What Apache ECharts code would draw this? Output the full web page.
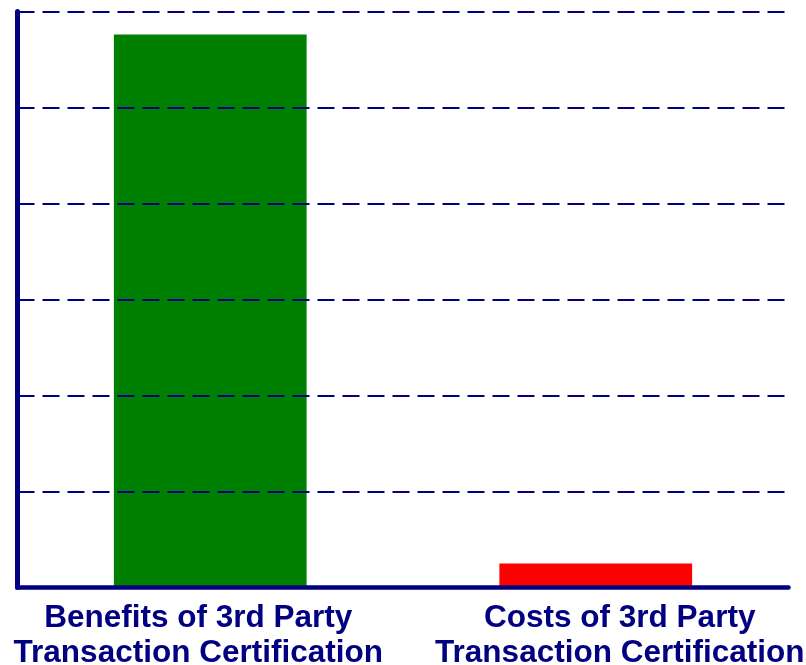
<!DOCTYPE html>
<html>
<head>
<meta charset="utf-8">
<script src="https://cdn.jsdelivr.net/npm/echarts@6/dist/echarts.min.js"></script>
<style>
html,body{margin:0;padding:0;background:#fff;}
#chart{width:806px;height:665px;}
</style>
</head>
<body>
<div id="chart"></div>
<script>
const categories = [
  "Benefits of 3rd Party\nTransaction Certification",
  "Costs of 3rd Party\nTransaction Certification"
];
const values = [5.76, 0.25];
const barColors = ["#008000", "#FF0000"];
const yTicks = [0, 1, 2, 3, 4, 5, 6];

const navy = "#000080";
const chart = echarts.init(document.getElementById("chart"), null, {renderer: "canvas"});

const option = {
  animation: false,
  backgroundColor: "#ffffff",
  grid: {left: 17.5, right: 17.5, top: 11.5, bottom: 77.5, containLabel: false, outerBoundsMode: "none"},
  xAxis: {
    type: "category",
    data: categories,
    z: 10,
    axisLine: {show: true, lineStyle: {color: navy, width: 4.5, cap: "round"}},
    axisTick: {show: false},
    splitLine: {show: false},
    axisLabel: {
      interval: 0,
      margin: 13,
      hideOverlap: false,
      formatter: function (val, idx) {
        const lines = val.split("\n");
        const st = idx === 0 ? "l" : "r";
        return lines.map(s => "{" + st + "|" + s + "}").join("\n");
      },
      rich: {
        l: {fontFamily: "Liberation Sans, Arial, sans-serif", fontWeight: "bold", fontSize: 31.5, lineHeight: 35, color: navy, padding: [0, 24, 0, 0]},
        r: {fontFamily: "Liberation Sans, Arial, sans-serif", fontWeight: "bold", fontSize: 31.5, lineHeight: 35, color: navy, padding: [0, 0, 0, 48]}
      }
    }
  },
  yAxis: {
    type: "value",
    min: yTicks[0],
    max: yTicks[yTicks.length - 1],
    interval: 1,
    z: 10,
    axisLine: {show: true, lineStyle: {color: navy, width: 5, cap: "round"}},
    axisTick: {show: false},
    axisLabel: {show: false},
    splitLine: {show: true, lineStyle: {color: navy, width: 2, type: [17, 8]}}
  },
  series: [{
    type: "bar",
    barWidth: "50%",
    data: values.map((v, i) => ({value: v, itemStyle: {color: barColors[i]}}))
  }]
};
chart.setOption(option);
</script>
</body>
</html>
